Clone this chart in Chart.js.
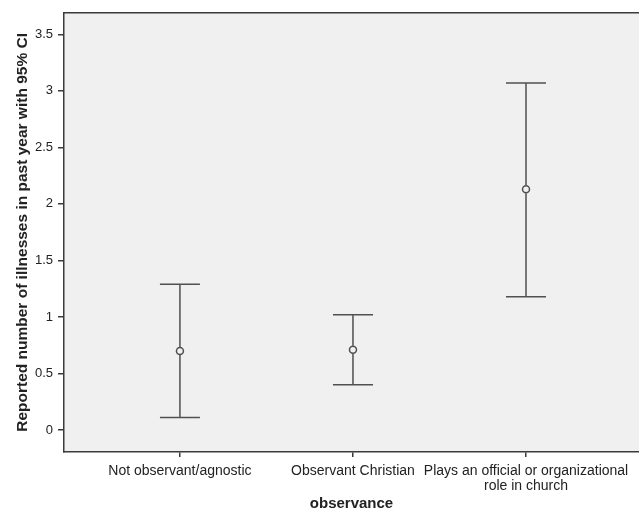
<!DOCTYPE html>
<html>
<head>
<meta charset="utf-8">
<script src="https://cdn.jsdelivr.net/npm/chart.js@4/dist/chart.umd.min.js"></script>
<style>
  html, body { margin: 0; padding: 0; background: #fff; }
  #chart { display: block; }
</style>
</head>
<body>
<canvas id="chart" width="639" height="511"></canvas>
<script>
// data (mean + 95% CI)
const categories = ['Not observant/agnostic', 'Observant Christian', ['Plays an official or organizational', 'role in church']];
const catPos = [1, 2, 3];
const means = [0.70, 0.71, 2.13];
const ciLower = [0.11, 0.40, 1.18];
const ciUpper = [1.29, 1.02, 3.07];
const yTicks = [0, 0.5, 1, 1.5, 2, 2.5, 3, 3.5];

const LINE = '#505050';
const AXIS = '#3a3a3a';
const TEXT = '#222';

// plot background, top border and the CI whiskers
const errorBars = {
  id: 'errorBars',
  beforeDraw(chart) {
    const { ctx, chartArea: a } = chart;
    ctx.save();
    ctx.fillStyle = '#f0f0f0';
    ctx.fillRect(a.left, a.top, a.right - a.left, a.bottom - a.top);
    ctx.strokeStyle = AXIS;
    ctx.lineWidth = 1.5;
    ctx.beginPath();
    ctx.moveTo(a.left, a.top);
    ctx.lineTo(a.right, a.top);
    ctx.stroke();
    ctx.restore();
  },
  afterDatasetsDraw(chart) {
    const { ctx, scales: { x, y } } = chart;
    const cap = 20;
    ctx.save();
    ctx.strokeStyle = LINE;
    ctx.lineWidth = 1.5;
    catPos.forEach((p, i) => {
      const px = x.getPixelForValue(p);
      const hi = y.getPixelForValue(ciUpper[i]);
      const lo = y.getPixelForValue(ciLower[i]);
      const m = y.getPixelForValue(means[i]);
      ctx.beginPath();
      ctx.moveTo(px, hi); ctx.lineTo(px, m - 4);
      ctx.moveTo(px, m + 4); ctx.lineTo(px, lo);
      ctx.moveTo(px - cap, hi); ctx.lineTo(px + cap, hi);
      ctx.moveTo(px - cap, lo); ctx.lineTo(px + cap, lo);
      ctx.stroke();
    });
    ctx.restore();
  }
};

new Chart(document.getElementById('chart'), {
  type: 'scatter',
  data: {
    datasets: [{
      data: catPos.map((p, i) => ({ x: p, y: means[i] })),
      pointStyle: 'circle',
      pointRadius: 3.5,
      pointBorderWidth: 1.5,
      pointBorderColor: LINE,
      pointBackgroundColor: 'rgba(0,0,0,0)'
    }]
  },
  options: {
    responsive: false,
    devicePixelRatio: 1,
    animation: false,
    layout: { autoPadding: false, padding: { top: 12, right: 0, left: 0, bottom: 0 } },
    plugins: { legend: { display: false }, tooltip: { enabled: false } },
    scales: {
      x: {
        type: 'linear',
        min: 0.33,
        max: 3.653,
        afterBuildTicks: s => { s.ticks = catPos.map(v => ({ value: v })); },
        afterFit: s => { s.height = 59; s.paddingLeft = 0; s.paddingRight = 0; },
        grid: { display: true, drawOnChartArea: false, tickLength: 5, color: AXIS, lineWidth: 1.5 },
        border: { display: true, color: AXIS, width: 1.5 },
        ticks: {
          padding: 6,
          maxRotation: 0,
          autoSkip: false,
          color: TEXT,
          font: { family: 'Liberation Sans', size: 14, lineHeight: 1.1 },
          callback: v => categories[catPos.indexOf(v)]
        },
        title: {
          display: true,
          text: 'observance',
          color: TEXT,
          font: { family: 'Liberation Sans', size: 15, weight: 'bold', lineHeight: 1.0 },
          padding: { top: 0, bottom: 0 }
        }
      },
      y: {
        min: -0.194,
        max: 3.69,
        afterBuildTicks: s => { s.ticks = yTicks.map(v => ({ value: v })); },
        afterFit: s => { s.width = 64; },
        grid: { display: true, drawOnChartArea: false, tickLength: 6, color: AXIS, lineWidth: 1.5 },
        border: { display: true, color: AXIS, width: 1.5 },
        ticks: {
          padding: 5,
          color: TEXT,
          font: { family: 'Liberation Sans', size: 13 },
          callback: v => String(v)
        },
        title: {
          display: true,
          text: 'Reported number of illnesses in past year with 95% CI',
          color: TEXT,
          font: { family: 'Liberation Sans', size: 15.5, weight: 'bold' },
          padding: { top: 13, bottom: 0 }
        }
      }
    }
  },
  plugins: [errorBars]
});
</script>
</body>
</html>
